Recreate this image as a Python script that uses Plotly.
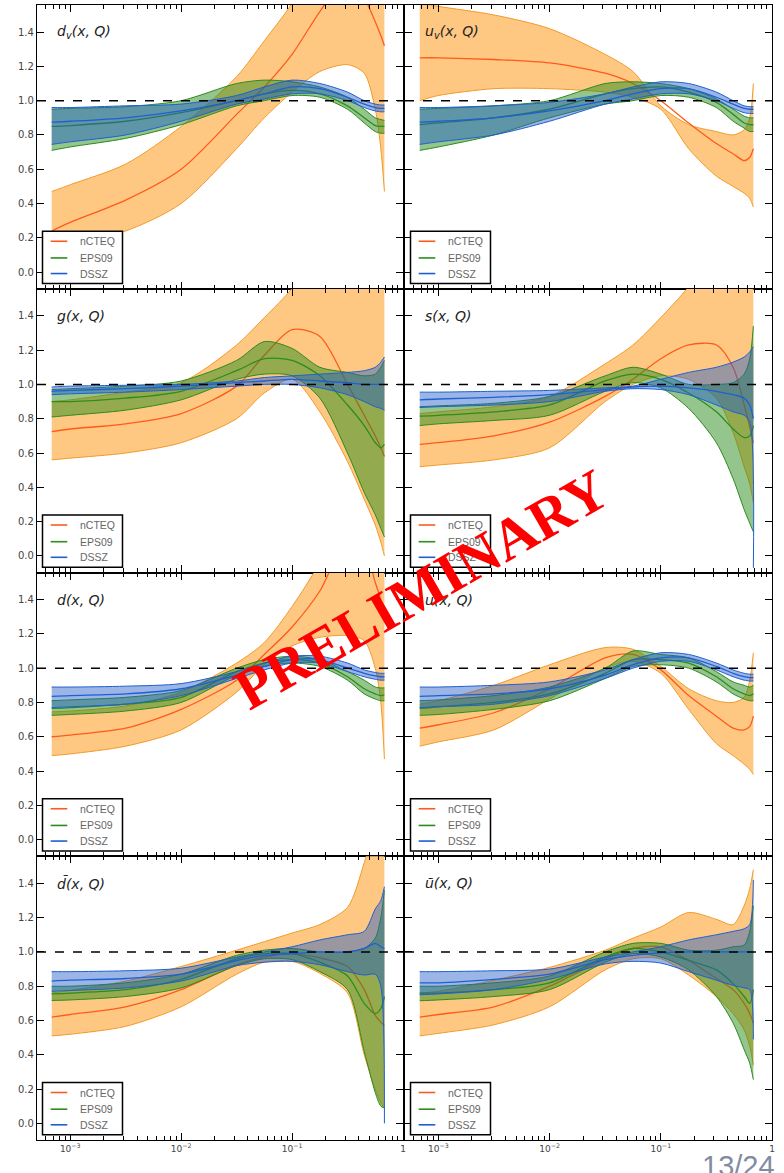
import plotly.graph_objects as go

# ---------------- data ----------------
X = [6.8e-4, 1e-3, 3.16e-3, 1e-2, 3.16e-2, 5.62e-2, 0.1, 0.178, 0.316, 0.447, 0.562, 0.631, 0.68]

SERIES = ["nCTEQ", "EPS09", "DSSZ"]
PANEL_LABELS = [
    "<i>d</i><sub><i>v</i></sub><i>(x, Q)</i>",
    "<i>u</i><sub><i>v</i></sub><i>(x, Q)</i>",
    "<i>g(x, Q)</i>",
    "<i>s(x, Q)</i>",
    "<i>d(x, Q)</i>",
    "<i>u(x, Q)</i>",
    "<i>d\u0304(x, Q)</i>",
    "<i>u\u0304(x, Q)</i>",
]
Y_TICKS = [0.0, 0.2, 0.4, 0.6, 0.8, 1.0, 1.2, 1.4]
Y_TICK_TEXT = ["0.0", "0.2", "0.4", "0.6", "0.8", "1.0", "1.2", "1.4"]
X_TICKS = [1e-3, 1e-2, 1e-1, 1]
X_TICK_TEXT = ["10<sup>\u22123</sup>", "10<sup>\u22122</sup>", "10<sup>\u22121</sup>", "1"]

# d_v
DV_NCTEQ_HI = [0.47, 0.51, 0.63, 0.85, 1.14, 1.35, 1.57, 1.9, 2.3, 2.5, 2.6, 2.6, 2.6]
DV_NCTEQ_C = [0.24, 0.29, 0.42, 0.60, 0.92, 1.08, 1.27, 1.52, 1.72, 1.6, 1.46, 1.38, 1.32]
DV_NCTEQ_LO = [0.15, 0.17, 0.24, 0.40, 0.72, 0.9, 1.05, 1.17, 1.21, 1.16, 0.95, 0.72, 0.47]
DV_EPS_HI = [0.95, 0.955, 0.965, 1.0, 1.1, 1.12, 1.11, 1.08, 1.02, 0.95, 0.9, 0.89, 0.885]
DV_EPS_C = [0.85, 0.855, 0.88, 0.93, 1.0, 1.04, 1.06, 1.04, 0.97, 0.9, 0.855, 0.85, 0.85]
DV_EPS_LO = [0.71, 0.73, 0.78, 0.86, 0.97, 1.0, 1.03, 1.02, 0.95, 0.87, 0.82, 0.81, 0.81]
DV_DSSZ_HI = [0.96, 0.96, 0.97, 0.98, 1.03, 1.08, 1.12, 1.10, 1.05, 1.0, 0.98, 0.975, 0.975]
DV_DSSZ_C = [0.875, 0.88, 0.9, 0.94, 1.0, 1.04, 1.08, 1.07, 1.02, 0.98, 0.96, 0.955, 0.955]
DV_DSSZ_LO = [0.745, 0.76, 0.8, 0.88, 0.98, 1.01, 1.04, 1.04, 1.0, 0.96, 0.94, 0.935, 0.935]

# u_v
UV_NCTEQ_HI = [1.57, 1.55, 1.5, 1.42, 1.27, 1.17, 0.97, 0.86, 0.82, 0.8, 0.83, 0.9, 1.1]
UV_NCTEQ_C = [1.25, 1.25, 1.24, 1.22, 1.16, 1.1, 1.0, 0.87, 0.75, 0.69, 0.65, 0.67, 0.72]
UV_NCTEQ_LO = [1.0, 1.03, 1.07, 1.07, 1.05, 1.02, 0.95, 0.72, 0.56, 0.5, 0.46, 0.43, 0.38]
UV_EPS_HI = [0.95, 0.955, 0.97, 1.0, 1.1, 1.11, 1.1, 1.07, 1.01, 0.95, 0.91, 0.9, 0.9]
UV_EPS_C = [0.86, 0.87, 0.9, 0.95, 1.04, 1.07, 1.08, 1.05, 0.99, 0.92, 0.87, 0.86, 0.86]
UV_EPS_LO = [0.71, 0.73, 0.8, 0.9, 0.98, 1.0, 1.03, 1.02, 0.96, 0.88, 0.84, 0.82, 0.82]
UV_DSSZ_HI = [0.96, 0.96, 0.97, 0.99, 1.04, 1.08, 1.11, 1.1, 1.05, 1.0, 0.97, 0.965, 0.965]
UV_DSSZ_C = [0.875, 0.88, 0.9, 0.94, 1.0, 1.04, 1.07, 1.07, 1.02, 0.98, 0.955, 0.95, 0.95]
UV_DSSZ_LO = [0.745, 0.76, 0.8, 0.88, 0.98, 1.01, 1.04, 1.04, 1.0, 0.955, 0.93, 0.925, 0.925]

# g
G_NCTEQ_HI = [0.9, 0.91, 0.955, 1.01, 1.23, 1.39, 1.56, 1.8, 2.0, 2.0, 2.0, 2.0, 2.0]
G_NCTEQ_C = [0.725, 0.74, 0.77, 0.83, 0.99, 1.17, 1.32, 1.28, 1.0, 0.82, 0.7, 0.63, 0.58]
G_NCTEQ_LO = [0.56, 0.57, 0.6, 0.66, 0.8, 0.95, 1.03, 0.84, 0.55, 0.33, 0.18, 0.08, 0.0]
G_EPS_HI = [0.97, 0.975, 0.99, 1.02, 1.14, 1.25, 1.21, 1.1, 1.07, 1.05, 1.06, 1.1, 1.14]
G_EPS_C = [0.9, 0.9, 0.92, 0.96, 1.08, 1.15, 1.14, 1.05, 0.88, 0.76, 0.66, 0.63, 0.65]
G_EPS_LO = [0.81, 0.82, 0.85, 0.91, 1.03, 1.06, 1.05, 0.92, 0.6, 0.37, 0.24, 0.16, 0.11]
G_DSSZ_HI = [0.985, 0.99, 0.995, 1.0, 1.02, 1.04, 1.05, 1.06, 1.07, 1.08, 1.1, 1.13, 1.16]
G_DSSZ_C = [0.96, 0.965, 0.975, 0.99, 1.01, 1.02, 1.03, 1.02, 1.01, 1.0, 1.0, 1.0, 1.0]
G_DSSZ_LO = [0.94, 0.945, 0.955, 0.97, 0.99, 1.0, 1.0, 0.98, 0.94, 0.9, 0.87, 0.86, 0.85]

# s
S_NCTEQ_HI = [0.83, 0.84, 0.87, 0.93, 1.12, 1.23, 1.39, 1.57, 1.8, 1.9, 2.0, 2.0, 2.0]
S_NCTEQ_C = [0.65, 0.66, 0.7, 0.78, 0.93, 1.03, 1.15, 1.23, 1.23, 1.1, 0.88, 0.75, 0.66]
S_NCTEQ_LO = [0.52, 0.53, 0.56, 0.63, 0.9, 1.0, 1.05, 1.03, 0.92, 0.72, 0.52, 0.42, 0.31]
S_EPS_HI = [0.87, 0.875, 0.89, 0.93, 1.05, 1.1, 1.06, 1.0, 1.0, 1.01, 1.06, 1.15, 1.34]
S_EPS_C = [0.815, 0.82, 0.84, 0.88, 1.02, 1.06, 1.03, 0.95, 0.84, 0.74, 0.69, 0.7, 0.76]
S_EPS_LO = [0.76, 0.77, 0.79, 0.82, 0.96, 1.01, 0.98, 0.86, 0.66, 0.45, 0.27, 0.19, 0.14]
S_DSSZ_HI = [0.955, 0.955, 0.96, 0.965, 0.98, 0.99, 1.03, 1.07, 1.1, 1.13, 1.16, 1.19, 1.22]
S_DSSZ_C = [0.91, 0.915, 0.925, 0.94, 0.97, 0.985, 0.99, 0.98, 0.96, 0.94, 0.92, 0.88, 0.8]
S_DSSZ_LO = [0.865, 0.87, 0.88, 0.9, 0.96, 0.975, 0.97, 0.94, 0.88, 0.84, 0.82, 0.78, -0.07]

# d
D_NCTEQ_HI = [0.745, 0.75, 0.78, 0.86, 1.03, 1.15, 1.36, 1.62, 2.0, 2.2, 2.3, 2.3, 2.3]
D_NCTEQ_C = [0.6, 0.61, 0.65, 0.76, 0.93, 1.08, 1.24, 1.45, 1.75, 1.7, 1.5, 1.4, 1.3]
D_NCTEQ_LO = [0.49, 0.5, 0.545, 0.64, 0.86, 1.02, 1.13, 1.18, 1.19, 1.16, 1.0, 0.8, 0.47]
D_EPS_HI = [0.81, 0.815, 0.83, 0.87, 1.0, 1.05, 1.07, 1.05, 0.98, 0.93, 0.89, 0.885, 0.885]
D_EPS_C = [0.765, 0.77, 0.79, 0.83, 0.98, 1.03, 1.05, 1.03, 0.95, 0.88, 0.85, 0.84, 0.845]
D_EPS_LO = [0.725, 0.73, 0.75, 0.8, 0.96, 1.01, 1.03, 1.01, 0.93, 0.85, 0.82, 0.81, 0.81]
D_DSSZ_HI = [0.89, 0.89, 0.895, 0.91, 0.98, 1.03, 1.07, 1.07, 1.03, 0.99, 0.975, 0.97, 0.97]
D_DSSZ_C = [0.835, 0.84, 0.85, 0.88, 0.96, 1.01, 1.05, 1.05, 1.0, 0.97, 0.955, 0.95, 0.95]
D_DSSZ_LO = [0.77, 0.775, 0.79, 0.84, 0.94, 0.99, 1.03, 1.03, 0.98, 0.95, 0.935, 0.93, 0.93]

# u
U_NCTEQ_HI = [0.79, 0.81, 0.9, 1.02, 1.12, 1.11, 1.01, 0.88, 0.81, 0.8, 0.83, 0.93, 1.09]
U_NCTEQ_C = [0.65, 0.67, 0.74, 0.88, 1.06, 1.08, 0.99, 0.84, 0.72, 0.65, 0.64, 0.66, 0.72]
U_NCTEQ_LO = [0.545, 0.57, 0.64, 0.82, 1.0, 1.04, 0.97, 0.76, 0.56, 0.49, 0.44, 0.41, 0.38]
U_EPS_HI = [0.81, 0.815, 0.84, 0.89, 1.0, 1.1, 1.08, 1.06, 0.98, 0.92, 0.9, 0.89, 0.9]
U_EPS_C = [0.765, 0.775, 0.8, 0.85, 0.97, 1.05, 1.05, 1.03, 0.95, 0.88, 0.85, 0.84, 0.85]
U_EPS_LO = [0.725, 0.73, 0.76, 0.81, 0.94, 1.01, 1.02, 1.0, 0.92, 0.85, 0.82, 0.81, 0.81]
U_DSSZ_HI = [0.89, 0.89, 0.9, 0.92, 0.99, 1.05, 1.09, 1.08, 1.03, 0.99, 0.97, 0.965, 0.965]
U_DSSZ_C = [0.835, 0.84, 0.85, 0.88, 0.96, 1.02, 1.06, 1.06, 1.01, 0.97, 0.95, 0.945, 0.945]
U_DSSZ_LO = [0.77, 0.775, 0.79, 0.84, 0.94, 1.0, 1.04, 1.04, 0.99, 0.95, 0.93, 0.925, 0.925]

# d-bar
DB_NCTEQ_HI = [0.76, 0.775, 0.83, 0.915, 1.01, 1.06, 1.11, 1.16, 1.26, 1.52, 1.75, 1.85, 1.9]
DB_NCTEQ_C = [0.62, 0.635, 0.68, 0.78, 0.925, 0.97, 0.99, 0.965, 0.915, 0.78, 0.63, 0.59, 0.57]
DB_NCTEQ_LO = [0.51, 0.52, 0.566, 0.68, 0.87, 0.94, 0.945, 0.875, 0.76, 0.4, 0.2, 0.12, 0.09]
DB_EPS_HI = [0.8, 0.8, 0.82, 0.87, 0.98, 1.01, 1.02, 1.0, 1.0, 1.02, 1.08, 1.2, 1.36]
DB_EPS_C = [0.755, 0.76, 0.78, 0.84, 0.96, 0.99, 0.99, 0.94, 0.86, 0.7, 0.64, 0.67, 0.74]
DB_EPS_LO = [0.717, 0.72, 0.74, 0.79, 0.92, 0.96, 0.955, 0.885, 0.78, 0.42, 0.18, 0.1, 0.09]
DB_DSSZ_HI = [0.885, 0.885, 0.89, 0.905, 0.97, 1.0, 1.03, 1.07, 1.1, 1.12, 1.25, 1.3, 1.38]
DB_DSSZ_C = [0.83, 0.835, 0.845, 0.87, 0.95, 0.98, 0.99, 1.0, 1.0, 1.02, 1.05, 1.03, 1.02]
DB_DSSZ_LO = [0.77, 0.775, 0.79, 0.83, 0.92, 0.94, 0.945, 0.925, 0.885, 0.865, 0.87, 0.8, 0.0]

# u-bar
UB_NCTEQ_HI = [0.76, 0.77, 0.835, 0.91, 1.01, 1.08, 1.145, 1.23, 1.19, 1.16, 1.27, 1.37, 1.48]
UB_NCTEQ_C = [0.62, 0.635, 0.68, 0.8, 0.96, 1.02, 1.03, 0.95, 0.845, 0.78, 0.7, 0.64, 0.585]
UB_NCTEQ_LO = [0.51, 0.525, 0.575, 0.68, 0.895, 0.96, 0.96, 0.865, 0.74, 0.64, 0.545, 0.45, 0.34]
UB_EPS_HI = [0.8, 0.8, 0.82, 0.86, 1.0, 1.05, 1.05, 1.01, 1.01, 1.03, 1.04, 1.12, 1.27]
UB_EPS_C = [0.76, 0.76, 0.78, 0.82, 0.97, 1.02, 1.0, 0.95, 0.895, 0.815, 0.74, 0.7, 0.78]
UB_EPS_LO = [0.715, 0.72, 0.74, 0.78, 0.94, 0.99, 0.97, 0.895, 0.74, 0.585, 0.43, 0.35, 0.255]
UB_DSSZ_HI = [0.885, 0.885, 0.89, 0.9, 0.97, 1.0, 1.03, 1.07, 1.1, 1.12, 1.135, 1.16, 1.42]
UB_DSSZ_C = [0.82, 0.82, 0.84, 0.87, 0.955, 0.98, 0.995, 1.0, 1.0, 1.0, 1.0, 1.0, 1.0]
UB_DSSZ_LO = [0.75, 0.755, 0.78, 0.84, 0.93, 0.945, 0.935, 0.885, 0.835, 0.805, 0.79, 0.78, 0.49]

PANELS = [
    [(DV_NCTEQ_LO, DV_NCTEQ_C, DV_NCTEQ_HI), (DV_EPS_LO, DV_EPS_C, DV_EPS_HI), (DV_DSSZ_LO, DV_DSSZ_C, DV_DSSZ_HI)],
    [(UV_NCTEQ_LO, UV_NCTEQ_C, UV_NCTEQ_HI), (UV_EPS_LO, UV_EPS_C, UV_EPS_HI), (UV_DSSZ_LO, UV_DSSZ_C, UV_DSSZ_HI)],
    [(G_NCTEQ_LO, G_NCTEQ_C, G_NCTEQ_HI), (G_EPS_LO, G_EPS_C, G_EPS_HI), (G_DSSZ_LO, G_DSSZ_C, G_DSSZ_HI)],
    [(S_NCTEQ_LO, S_NCTEQ_C, S_NCTEQ_HI), (S_EPS_LO, S_EPS_C, S_EPS_HI), (S_DSSZ_LO, S_DSSZ_C, S_DSSZ_HI)],
    [(D_NCTEQ_LO, D_NCTEQ_C, D_NCTEQ_HI), (D_EPS_LO, D_EPS_C, D_EPS_HI), (D_DSSZ_LO, D_DSSZ_C, D_DSSZ_HI)],
    [(U_NCTEQ_LO, U_NCTEQ_C, U_NCTEQ_HI), (U_EPS_LO, U_EPS_C, U_EPS_HI), (U_DSSZ_LO, U_DSSZ_C, U_DSSZ_HI)],
    [(DB_NCTEQ_LO, DB_NCTEQ_C, DB_NCTEQ_HI), (DB_EPS_LO, DB_EPS_C, DB_EPS_HI), (DB_DSSZ_LO, DB_DSSZ_C, DB_DSSZ_HI)],
    [(UB_NCTEQ_LO, UB_NCTEQ_C, UB_NCTEQ_HI), (UB_EPS_LO, UB_EPS_C, UB_EPS_HI), (UB_DSSZ_LO, UB_DSSZ_C, UB_DSSZ_HI)],
]

# ---------------- styling ----------------
FILL = ["#FFC882", "rgba(40,140,25,0.5)", "rgba(30,90,200,0.45)"]
EDGE = ["#F09A2A", "#2E8B1E", "#2060D0"]
CENTER = ["#FF5A1E", "#2E8B1E", "#1F5FD5"]

W, H = 784, 1173
ML, MR, MT, MB = 37, 12, 5, 33
PW = W - ML - MR
PH = H - MT - MB
COL_PX = [(37, 403), (405, 772)]
COL_DOM = [[(a - ML) / PW, (b - ML) / PW] for a, b in COL_PX]
ROW_H = PH / 4
MINOR = [k * 10.0 ** e for e in range(-4, 0) for k in range(2, 10)]


def px(xp, yp):
    """pixel position -> paper coordinates"""
    return (xp - ML) / PW, (H - MB - yp) / PH


fig = go.Figure()
layout = {}
annotations = []
shapes = []

for i, panel in enumerate(PANELS):
    r, c = divmod(i, 2)
    n = i + 1
    xref = "x" if n == 1 else f"x{n}"
    yref = "y" if n == 1 else f"y{n}"
    for s, (lo, ce, hi) in enumerate(panel):
        fig.add_trace(go.Scatter(x=X, y=lo, mode="lines", xaxis=xref, yaxis=yref,
                                 line=dict(color=EDGE[s], width=1, shape="spline", smoothing=0.8),
                                 showlegend=False, hoverinfo="skip"))
        fig.add_trace(go.Scatter(x=X, y=hi, mode="lines", xaxis=xref, yaxis=yref, fill="tonexty",
                                 fillcolor=FILL[s],
                                 line=dict(color=EDGE[s], width=1, shape="spline", smoothing=0.8),
                                 showlegend=False, hoverinfo="skip"))
        fig.add_trace(go.Scatter(x=X, y=ce, mode="lines", xaxis=xref, yaxis=yref, name=SERIES[s],
                                 line=dict(color=CENTER[s], width=1.3, shape="spline", smoothing=0.8),
                                 showlegend=False))

    layout[f"xaxis{n}"] = dict(
        domain=COL_DOM[c], anchor=yref, type="log", range=[-3.3, 0.0],
        showline=True, linecolor="black", linewidth=1.3, mirror="ticks",
        ticks="inside", ticklen=7, tickwidth=1.2, tickcolor="black",
        tickvals=X_TICKS, ticktext=X_TICK_TEXT, showticklabels=(r == 3),
        tickfont=dict(family="DejaVu Sans", size=9, color="#444"),
        minor=dict(ticks="inside", ticklen=4, tickwidth=1, tickcolor="black", tickvals=MINOR),
        showgrid=False, zeroline=False,
    )
    layout[f"yaxis{n}"] = dict(
        domain=[1 - (r + 1) / 4, 1 - r / 4], anchor=xref, range=[-0.097, 1.558],
        showline=True, linecolor="black", linewidth=1.3, mirror="ticks",
        ticks="inside", ticklen=7, tickwidth=1.2, tickcolor="black",
        tickvals=Y_TICKS, ticktext=Y_TICK_TEXT, showticklabels=(c == 0),
        tickfont=dict(family="DejaVu Sans", size=10, color="#444"),
        showgrid=False, zeroline=False,
    )

    # legend box in the lower-left corner of each panel
    pl = COL_PX[c][0]
    pb = MT + ROW_H * (r + 1)
    bx0, by0 = px(pl + 5.5, pb - 5.2)
    bx1, by1 = px(pl + 85.5, pb - 57.5)
    shapes.append(dict(type="rect", xref="paper", yref="paper", x0=bx0, y0=by0, x1=bx1, y1=by1,
                       line=dict(color="black", width=1.5), fillcolor="white", layer="above"))
    for s, dy in enumerate([47.5, 30.8, 15.2]):
        lx0, ly = px(pl + 13.7, pb - dy)
        lx1, _ = px(pl + 30.3, pb - dy)
        shapes.append(dict(type="line", xref="paper", yref="paper", x0=lx0, x1=lx1, y0=ly, y1=ly,
                           line=dict(color=CENTER[s], width=1.6), layer="above"))
        tx, _ = px(pl + 40.5, pb - dy)
        annotations.append(dict(text=SERIES[s], xref="paper", yref="paper", x=tx, y=ly,
                                xanchor="left", yanchor="middle", showarrow=False,
                                font=dict(family="Liberation Sans", size=10.5, color="#666")))

    # dashed reference line at 1
    shapes.append(dict(type="line", xref=f"{xref} domain", yref=yref, x0=0, x1=1, y0=1, y1=1,
                       line=dict(color="black", width=1.5, dash="dash"), layer="above"))
    annotations.append(dict(text=PANEL_LABELS[i], xref=f"{xref} domain", yref=yref,
                            x=0.05, y=1.40, xanchor="left", yanchor="middle", showarrow=False,
                            font=dict(family="DejaVu Sans", size=14, color="#222")))

wx, wy = px(421, 589)
annotations.append(dict(text="<b>PRELIMINARY</b>", xref="paper", yref="paper",
                        x=wx, y=wy, xanchor="center", yanchor="middle",
                        textangle=-30, showarrow=False,
                        font=dict(family="Liberation Serif", size=58, color="#FF0000")))
nx, ny = px(777, 1148)
annotations.append(dict(text="13/24", xref="paper", yref="paper",
                        x=nx, y=ny, xanchor="right", yanchor="top",
                        showarrow=False,
                        font=dict(family="Liberation Sans", size=29, color="#7F8CA3")))

fig.update_layout(
    width=W, height=H, margin=dict(l=ML, r=MR, t=MT, b=MB, autoexpand=False),
    paper_bgcolor="white", plot_bgcolor="white", showlegend=False,
    shapes=shapes, annotations=annotations, **layout,
)

fig.write_html("out.html", config={"displayModeBar": False},
               post_script="document.body.style.margin='0';document.body.style.overflow='hidden';")
